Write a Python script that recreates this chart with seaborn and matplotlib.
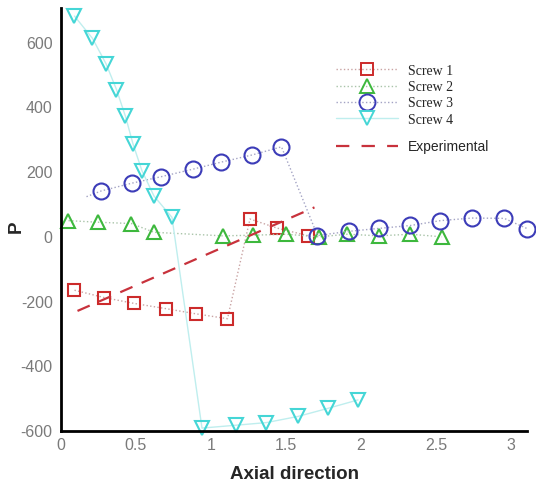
import matplotlib
matplotlib.use("Agg")
import matplotlib.pyplot as plt
from matplotlib.ticker import MultipleLocator, FixedLocator
from matplotlib.lines import Line2D
import seaborn as sns

# ---- data ----
screw1_x = [0.09, 0.29, 0.49, 0.70, 0.90, 1.11, 1.26, 1.44, 1.65]
screw1_y = [-165, -188, -206, -222, -238, -253, 55, 27, 3]

screw2_x = [0.05, 0.25, 0.47, 0.62, 1.08, 1.28, 1.50, 1.72, 1.91, 2.12, 2.33, 2.54]
screw2_y = [50, 45, 41, 14, 3, 5, 8, 0, 8, 3, 8, 0]

screw3_x = [0.17, 0.27, 0.475, 0.67, 0.88, 1.07, 1.275, 1.47, 1.71, 1.92, 2.12, 2.33, 2.53, 2.74, 2.955, 3.11]
screw3_y = [124, 142, 166, 186, 209, 231, 253, 278, 4, 17, 26, 35, 50, 58, 57, 25]

screw4_x = [0.09, 0.21, 0.30, 0.37, 0.43, 0.48, 0.54, 0.62, 0.74, 0.94, 1.17, 1.37, 1.58, 1.78, 1.98]
screw4_y = [682, 613, 535, 455, 372, 287, 204, 126, 60, -591, -582, -574, -555, -530, -504]

exp_x = [0.11, 1.69]
exp_y = [-229, 91]

labels = ["Screw 1", "Screw 2", "Screw 3", "Screw 4"]
x_ticks = [0, 0.5, 1, 1.5, 2, 2.5, 3]
x_ticklabels = ["0", "0.5", "1", "1.5", "2", "2.5", "3"]
y_ticks = [-600, -400, -200, 0, 200, 400, 600]
y_ticklabels = ["-600", "-400", "-200", "0", "200", "400", "600"]

sns.set_style("white")
plt.rcParams["font.family"] = ["Liberation Sans", "DejaVu Sans"]

fig = plt.figure(figsize=(5.36, 4.90), dpi=100)
ax = fig.add_axes([61/536, 1-431/490, 466/536, 423/490])

mcols = ["#cc2b2b", "#3db83d", "#3c3cb8", "#45d6d6"]
lcols = ["#c9a3a3", "#a9c4a9", "#a3a3c4", "#bfeeee"]
markers = ["s", "^", "o", "v"]
msizes = [8.5, 9.5, 11.5, 10]
series = [(screw1_x, screw1_y, None), (screw2_x, screw2_y, None),
          (screw3_x, screw3_y, list(range(1, len(screw3_x)))), (screw4_x, screw4_y, None)]

for i, (xs, ys, mev) in enumerate(series):
    kw = dict(marker=markers[i], markersize=msizes[i], markerfacecolor="none",
              markeredgecolor=mcols[i], markeredgewidth=1.5, color=lcols[i],
              linewidth=1.0, linestyle=":" if i < 3 else "-", clip_on=False)
    if mev is not None:
        kw["markevery"] = mev
    sns.lineplot(x=xs, y=ys, ax=ax, estimator=None, sort=False, errorbar=None, **kw)

sns.lineplot(x=exp_x, y=exp_y, ax=ax, estimator=None, sort=False, errorbar=None,
             color="#c8323c", linewidth=1.6, dashes=False, clip_on=False)
ax.lines[-1].set_dashes((6, 4.5))

ax.set_xlim(0, 3.107)
ax.set_ylim(-600, 707)
ax.xaxis.set_major_locator(FixedLocator(x_ticks))
ax.set_xticklabels(x_ticklabels)
ax.yaxis.set_major_locator(FixedLocator(y_ticks))
ax.set_yticklabels(y_ticklabels)
ax.xaxis.set_minor_locator(MultipleLocator(0.1))
ax.yaxis.set_minor_locator(MultipleLocator(50))

for s in ["top", "right"]:
    ax.spines[s].set_visible(False)
for s in ["left", "bottom"]:
    ax.spines[s].set_color("black")
    ax.spines[s].set_linewidth(2.0)

ax.tick_params(which="major", direction="in", length=8, width=1.6, color="black",
               labelsize=11.5, labelcolor="#7a7a7a")
ax.tick_params(which="minor", direction="in", length=3.5, width=0.9, color="black")
ax.tick_params(axis="x", which="major", pad=5)
ax.tick_params(axis="y", which="major", pad=6)

ax.set_xlabel("Axial direction", fontsize=13.5, fontweight="bold", va="top")
ax.set_ylabel("P", fontsize=13.5, fontweight="bold")
ax.xaxis.set_label_coords(0.5, -0.083)
ax.yaxis.set_label_coords(-0.077, 0.482)

# legend
handles = []
for i in range(4):
    handles.append(Line2D([], [], marker=markers[i], markersize=msizes[i], markerfacecolor="none",
                          markeredgecolor=mcols[i], markeredgewidth=1.4, color=lcols[i],
                          linewidth=1.0, linestyle=":" if i < 3 else "-"))
leg1 = ax.legend(handles, labels, loc="upper left", bbox_to_anchor=(336/536, 1-64/490),
                 bbox_transform=fig.transFigure, frameon=False, borderpad=0, borderaxespad=0,
                 handlelength=4.46, handletextpad=0.75, labelspacing=0.16, handleheight=1.0,
                 prop={"family": "Liberation Serif", "size": 10})
ax.add_artist(leg1)
exp_h = Line2D([], [], color="#c8323c", linewidth=1.6, dashes=(6, 5.5))
leg2 = ax.legend([exp_h], ["Experimental"], loc="upper left", bbox_to_anchor=(336/536, 1-140/490),
                 bbox_transform=fig.transFigure, frameon=False, borderpad=0, borderaxespad=0,
                 handlelength=4.46, handletextpad=0.75,
                 prop={"family": "Liberation Sans", "size": 10})

fig.savefig("out.png", dpi=100)
